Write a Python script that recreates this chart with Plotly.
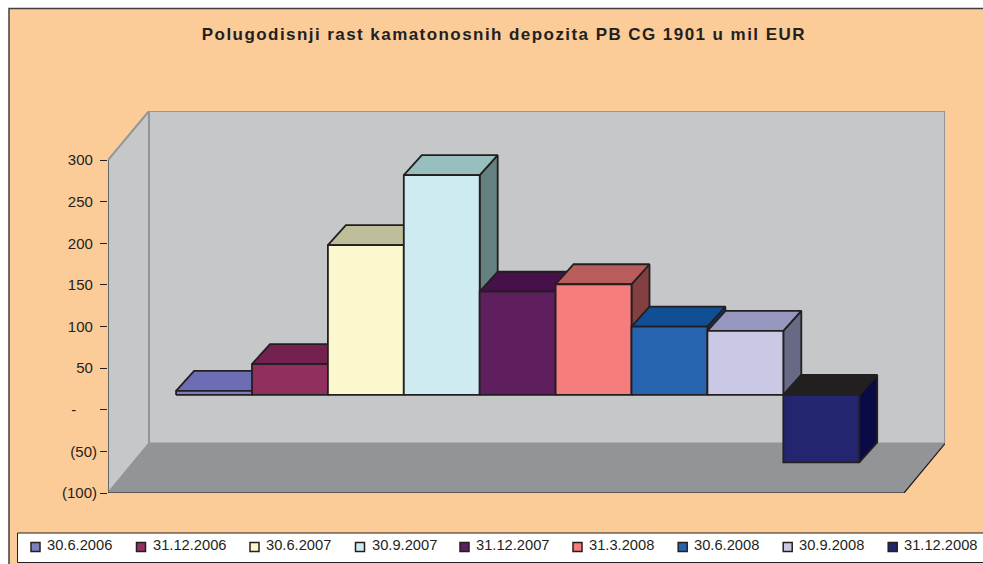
import plotly.graph_objects as go

W, H = 983, 564
title = "Polugodisnji rast kamatonosnih depozita PB CG 1901 u mil EUR"
categories = ["30.6.2006", "31.12.2006", "30.6.2007", "30.9.2007", "31.12.2007",
              "31.3.2008", "30.6.2008", "30.9.2008", "31.12.2008"]
values = [5, 37, 180, 264, 124, 133, 82, 77, -81]
tick_vals = [300, 250, 200, 150, 100, 50, 0, -50, -100]
tick_text = ["300\u00a0", "250\u00a0", "200\u00a0", "150\u00a0", "100\u00a0", "50\u00a0",
             "-\u00a0\u00a0\u00a0\u00a0\u00a0", "(50)", "(100)"]

front_colors = ["#7F7FBF", "#91305F", "#FCF8CE", "#CEEBF1", "#5F1E5E",
                "#F57D7D", "#2764B0", "#C9C9E6", "#23266F"]
top_colors = ["#6C6DB5", "#752150", "#BEBE9A", "#98BFBD", "#47104A",
              "#B85C5C", "#114F94", "#9696BF", "#221F20"]
side_colors = ["#4F4F80", "#5A1A40", "#8A8A70", "#658080", "#35103A",
               "#824040", "#0E3A70", "#686A85", "#0A0A45"]

# projection constants (axis units)
X0, X1 = -1.389, 9.638      # x axis range
Y0, Y1 = -100, 358.9        # y axis range
FLOOR_X1 = 9.098            # right end of the front floor edge
WALL_DX, WALL_DY = X1 - FLOOR_X1, 59.4
BAR_DX, BAR_DY = 0.237, 24.0
BAR_LIFT = 17.8             # bars stand in the middle of the depth
BAR_SHIFT = 0.008
HALF = 0.5
INK = "#231F20"
WALL = "#C6C7C9"
EDGE = "#939598"
FLOOR = "#929497"
PEACH = "#FBCB98"

fig = go.Figure()


def poly(xs, ys, fill, line=INK, width=1.8):
    fig.add_trace(go.Scatter(x=xs, y=ys, mode="lines", fill="toself", fillcolor=fill,
                             line=dict(color=line, width=width), showlegend=False,
                             hoverinfo="skip", cliponaxis=False))


def stroke(xs, ys, color, width):
    fig.add_trace(go.Scatter(x=xs, y=ys, mode="lines", line=dict(color=color, width=width),
                             showlegend=False, hoverinfo="skip", cliponaxis=False))


# walls and floor
poly([X0 + WALL_DX, X1, X1, X0 + WALL_DX, X0 + WALL_DX],
     [Y0 + WALL_DY, Y0 + WALL_DY, Y1, Y1, Y0 + WALL_DY], WALL, EDGE, 2)
poly([X0, X0 + WALL_DX, X0 + WALL_DX, X0, X0],
     [Y0, Y0 + WALL_DY, Y1, 300, Y0], WALL, EDGE, 2)
poly([X0, FLOOR_X1, X1, X0 + WALL_DX, X0],
     [Y0, Y0, Y0 + WALL_DY, Y0 + WALL_DY, Y0], FLOOR, FLOOR, 1)
stroke([X0, X0], [300, Y0], "#58595B", 1.5)
stroke([X0, FLOOR_X1, X1], [Y0, Y0, Y0 + WALL_DY], INK, 1.2)

# bars: side, top, front of each, left to right
for i, v in enumerate(values):
    xl, xr = i - HALF + BAR_SHIFT, i + HALF + BAR_SHIFT
    base, tip = BAR_LIFT, v + BAR_LIFT
    hi = max(base, tip)
    poly([xr, xr + BAR_DX, xr + BAR_DX, xr, xr],
         [base, base + BAR_DY, tip + BAR_DY, tip, base], side_colors[i])
    poly([xl, xr, xr + BAR_DX, xl + BAR_DX, xl],
         [hi, hi, hi + BAR_DY, hi + BAR_DY, hi], top_colors[i])
    fig.add_trace(go.Scatter(x=[xl, xr, xr, xl, xl], y=[base, base, tip, tip, base],
                             mode="lines", fill="toself", fillcolor=front_colors[i],
                             line=dict(color=INK, width=1.8), name=categories[i],
                             showlegend=False, hoverinfo="name", cliponaxis=False))

# outer frame, legend box
shapes = [
    dict(type="rect", xref="paper", yref="paper", x0=9 / W, x1=1.01, y0=-0.01, y1=1 - 8.5 / H,
         fillcolor=PEACH, line=dict(color="#414042", width=1.5), layer="below"),
    dict(type="rect", xref="paper", yref="paper", x0=17.5 / W, x1=1.01, y0=1 - 562.5 / H, y1=1 - 533 / H,
         fillcolor="white", line=dict(color=INK, width=1), layer="below"),
]
legend_x = [35.5, 141, 254.5, 360, 464.5, 577.5, 682.7, 787.7, 892.7]
annotations = [dict(text="<b>" + title + "</b>", x=504 / W, y=1 - 34 / H, xref="paper", yref="paper",
                    showarrow=False, xanchor="center", yanchor="middle",
                    font=dict(family="Liberation Sans", size=17, color=INK))]
for name, color, px in zip(categories, front_colors, legend_x):
    shapes.append(dict(type="rect", xref="paper", yref="paper",
                       x0=(px - 4.5) / W, x1=(px + 4.5) / W,
                       y0=1 - 551.5 / H, y1=1 - 542.5 / H,
                       fillcolor=color, line=dict(color=INK, width=1.5)))
    annotations.append(dict(text=name, x=(px + 10.5) / W, y=1 - 545 / H, xref="paper", yref="paper",
                            showarrow=False, xanchor="left", yanchor="middle",
                            font=dict(family="Liberation Sans", size=14.7, color=INK),
                            xshift=-1))

fig.update_layout(
    width=W, height=H, margin=dict(l=0, r=0, t=0, b=0), autosize=False,
    paper_bgcolor="white", plot_bgcolor="rgba(0,0,0,0)", showlegend=False,
    shapes=shapes, annotations=annotations,
    xaxis=dict(domain=[108 / W, 945 / W], range=[X0, X1], visible=False, fixedrange=True, automargin=False),
    yaxis=dict(domain=[1 - 493 / H, 1 - 111 / H], range=[Y0, Y1], tickvals=tick_vals, ticktext=tick_text,
               ticks="outside", ticklen=7, tickcolor=INK, tickwidth=1, showgrid=False, zeroline=False,
               showline=False, fixedrange=True, automargin=False,
               tickfont=dict(family="Liberation Sans", size=15, color=INK)),
)
post = """
document.documentElement.style.margin='0';document.body.style.margin='0';document.body.style.overflow='hidden';
document.querySelectorAll('.annotation-text').forEach(function(t){
 if(t.textContent.indexOf('Polugodisnji')===0){t.style.letterSpacing='1.44px';}});
"""
fig.write_html("out.html", post_script=post, config=dict(displayModeBar=False))
